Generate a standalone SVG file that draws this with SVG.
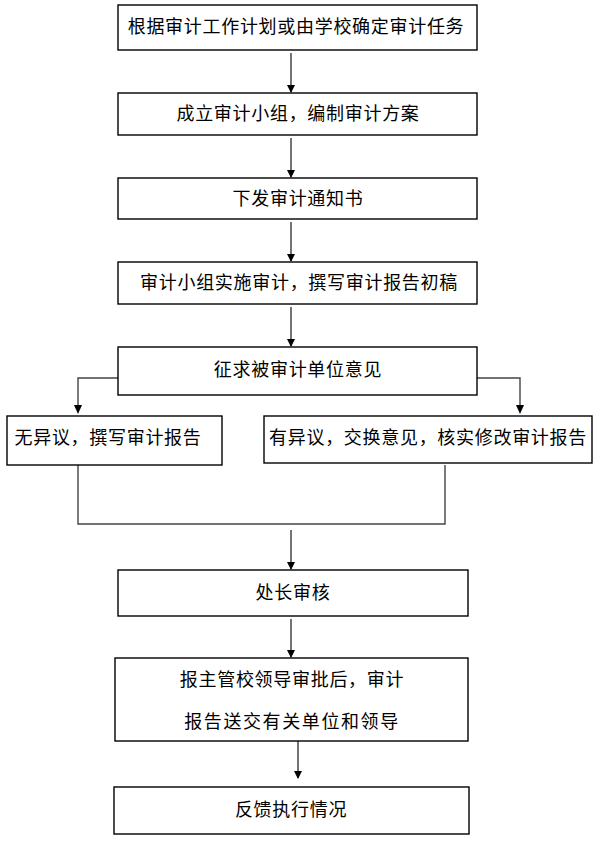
<svg xmlns="http://www.w3.org/2000/svg" width="597" height="845" viewBox="0 0 597 845">
<style>
.box{fill:#fff;stroke:#000;stroke-width:1.4}
.t{font-family:"Liberation Serif","Noto Sans CJK SC",serif;font-size:18px;letter-spacing:0.7px;fill:#000;text-anchor:middle;dominant-baseline:central}
.a{stroke:#000;stroke-width:1.1;fill:none;marker-end:url(#ah)}
.b{stroke:#444;stroke-width:1.4;fill:none}
</style>
<defs>
<marker id="ah" markerWidth="8" markerHeight="10" refX="7" refY="4" orient="auto" markerUnits="userSpaceOnUse" viewBox="0 0 8 8">
<path d="M0,0 L8,4 L0,8 Z" fill="#000"/>
</marker>
</defs>
<rect width="597" height="845" fill="#fff"/>
<g id="connectors">
<line class="a" x1="291" y1="53" x2="291" y2="92"/>
<line class="a" x1="291" y1="138" x2="291" y2="177"/>
<line class="a" x1="291" y1="222" x2="291" y2="261"/>
<line class="a" x1="291" y1="307" x2="291" y2="346"/>
<polyline class="b" points="118,378 78,378 78,406"/>
<path d="M74,405 L82,405 L78,414 Z" fill="#000"/>
<polyline class="b" points="477,378 520,378 520,406"/>
<path d="M516,405 L524,405 L520,414 Z" fill="#000"/>
<polyline class="b" points="78,465 78,524 445,524 445,465"/>
<line class="a" x1="291" y1="530" x2="291" y2="569"/>
<line class="a" x1="291" y1="619" x2="291" y2="657"/>
<line class="a" x1="298" y1="741" x2="298" y2="778"/>
</g>
<g id="n1"><rect class="box" x="118" y="5" width="359" height="45"/><text class="t" x="296" y="27">根据审计工作计划或由学校确定审计任务</text></g>
<g id="n2"><rect class="box" x="118" y="93" width="359" height="42"/><text class="t" x="298" y="114">成立审计小组，编制审计方案</text></g>
<g id="n3"><rect class="box" x="118" y="178" width="359" height="41"/><text class="t" x="298" y="199">下发审计通知书</text></g>
<g id="n4"><rect class="box" x="118" y="262" width="359" height="42"/><text class="t" x="299" y="283">审计小组实施审计，撰写审计报告初稿</text></g>
<g id="n5"><rect class="box" x="118" y="347" width="359" height="48"/><text class="t" x="298" y="370">征求被审计单位意见</text></g>
<g id="n6"><rect class="box" x="7" y="416" width="215" height="49"/><text class="t" x="108" y="438">无异议，撰写审计报告</text></g>
<g id="n7"><rect class="box" x="264" y="416" width="328" height="47"/><text class="t" x="428" y="438">有异议，交换意见，核实修改审计报告</text></g>
<g id="n8"><rect class="box" x="118" y="570" width="350" height="46"/><text class="t" x="293" y="593">处长审核</text></g>
<g id="n9"><rect class="box" x="115" y="658" width="353" height="83"/><text class="t" x="292" y="680">报主管校领导审批后，审计</text><text class="t" x="292" y="722" style="letter-spacing:1.6px">报告送交有关单位和领导</text></g>
<g id="n10"><rect class="box" x="114" y="787" width="355" height="47"/><text class="t" x="291" y="810">反馈执行情况</text></g>
</svg>
